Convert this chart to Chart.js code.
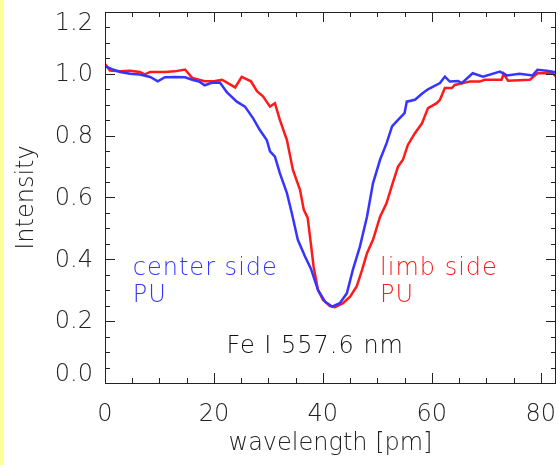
<!DOCTYPE html>
<html>
<head>
<meta charset="utf-8">
<script src="https://cdn.jsdelivr.net/npm/chart.js@4.4.0/dist/chart.umd.min.js"></script>
<style>
  html, body { margin: 0; padding: 0; background: #fff; }
</style>
</head>
<body>
<canvas id="lineChart" width="560" height="465"></canvas>
<script>
// Fe I 557.6 nm profiles
const centerWave = [0, 1.3, 2.75, 4.6, 6.4, 8.3, 9.7, 11.0, 12.8, 14.7, 16.0, 17.4, 18.3, 19.6, 21.1, 22.4,
    24.2, 25.7, 27.2, 28.4, 29.7, 30.3, 31.2, 32.1, 33.4, 34.3, 35.4, 36.7, 37.8, 39.1, 40.4, 41.7,
    43.1, 44.4, 45.5, 46.8, 48.1, 49.2, 50.5, 51.7, 52.7, 53.8, 55.0, 55.4, 56.9, 58.3, 59.3, 61.5,
    62.4, 63.3, 64.8, 65.5, 67.5, 69.4, 72.5, 73.8, 76.1, 78.5, 79.4, 81.1, 82.8];
const centerInt = [1.025, 1.015, 1.006, 1.0, 0.998, 0.99, 0.976, 0.989, 0.99, 0.989, 0.981, 0.974, 0.963, 0.971, 0.972, 0.94,
    0.91, 0.894, 0.856, 0.819, 0.786, 0.749, 0.732, 0.679, 0.614, 0.549, 0.463, 0.41, 0.37, 0.301, 0.263, 0.247,
    0.258, 0.29, 0.366, 0.441, 0.538, 0.646, 0.722, 0.776, 0.83, 0.851, 0.873, 0.91, 0.916, 0.937, 0.95, 0.97,
    0.991, 0.975, 0.977, 0.97, 1.002, 0.991, 1.007, 0.995, 1.0, 0.995, 1.013, 1.01, 1.005];

const limbWave = [0, 0.9, 2.75, 4.6, 6.4, 7.3, 8.3, 11.0, 12.8, 14.7, 16.0, 18.3, 20.2, 21.5, 23.9, 25.1,
    26.8, 27.9, 29.0, 30.3, 31.2, 32.1, 33.4, 34.5, 35.8, 36.5, 37.2, 37.8, 38.3, 39.1, 40.0, 41.3,
    42.2, 43.7, 45.0, 46.2, 47.2, 48.1, 49.2, 50.5, 51.7, 52.8, 53.8, 54.7, 55.6, 56.9, 58.2, 59.3,
    60.9, 61.5, 62.4, 63.7, 64.2, 65.7, 67.0, 68.8, 69.7, 72.8, 73.2, 74.0, 78.0, 79.4, 82.2, 82.8];
const limbInt = [1.032, 1.011, 1.008, 1.01, 1.006, 0.998, 1.006, 1.006, 1.008, 1.014, 0.987, 0.976, 0.977, 0.981, 0.956, 0.99,
    0.976, 0.944, 0.927, 0.894, 0.905, 0.851, 0.786, 0.689, 0.625, 0.56, 0.535, 0.45, 0.376, 0.301, 0.269, 0.249,
    0.245, 0.258, 0.279, 0.312, 0.366, 0.42, 0.463, 0.538, 0.582, 0.646, 0.7, 0.722, 0.77, 0.808, 0.84, 0.889,
    0.905, 0.916, 0.954, 0.954, 0.964, 0.97, 0.975, 0.975, 0.981, 0.981, 1.0, 0.978, 0.981, 1.002, 1.002, 0.991];

// y tick labels (drawn by hand so the end ones can sit inside the box like IDL does)
const yTickValues = [0.0, 0.2, 0.4, 0.6, 0.8, 1.0, 1.2];

const xMin = 0, xMax = 82.8, xMajor = 20, xMinor = 5;
const yMin = 0, yMax = 1.2, yMinor = 0.05;

const blue = '#3535ff';
const red = '#ff1a1a';
const fontFamily = '"DejaVu Sans", sans-serif';
const textFont = '200 24px ' + fontFamily;

function toPoints(xs, ys) {
    return xs.map((x, i) => ({ x: x, y: ys[i] }));
}

// box around the plot with inward ticks on all four sides (IDL style)
const boxTicks = {
    id: 'boxTicks',
    beforeDraw(chart) {
        const ctx = chart.ctx;
        ctx.save();
        ctx.fillStyle = '#ffff99';
        ctx.fillRect(0, 0, 4, chart.height);
        ctx.restore();
    },
    afterDatasetsDraw(chart) {
        const { ctx, chartArea: a, scales: { x, y } } = chart;
        ctx.save();
        ctx.strokeStyle = '#222';
        ctx.lineWidth = 1;
        ctx.beginPath();
        ctx.rect(a.left + 0.5, a.top + 0.5, a.right - a.left - 1, a.bottom - a.top);
        const nx = Math.floor((xMax - xMin) / xMinor + 1e-6);
        for (let i = 0; i <= nx; i++) {
            const v = xMin + i * xMinor;
            const px = Math.round(x.getPixelForValue(v)) + 0.5;
            const len = (i % (xMajor / xMinor) === 0) ? 10 : 5;
            ctx.moveTo(px, a.bottom); ctx.lineTo(px, a.bottom - len);
            ctx.moveTo(px, a.top); ctx.lineTo(px, a.top + len);
        }
        const ny = Math.round((yMax - yMin) / yMinor);
        for (let i = 0; i <= ny; i++) {
            const v = yMin + i * yMinor;
            const py = Math.round(y.getPixelForValue(v)) + 0.5;
            const len = (i % 4 === 0) ? 10 : 5;
            ctx.moveTo(a.left, py); ctx.lineTo(a.left + len, py);
            ctx.moveTo(a.right, py); ctx.lineTo(a.right - len, py);
        }
        ctx.stroke();

        // y tick labels, end labels pulled inside the box
        ctx.font = textFont;
        ctx.fillStyle = '#222';
        ctx.textAlign = 'right';
        ctx.textBaseline = 'middle';
        yTickValues.forEach(v => {
            let py = y.getPixelForValue(v) + 1;
            py = Math.min(Math.max(py, a.top + 12), a.bottom - 8);
            ctx.fillText(v.toFixed(1), a.left - 12, py);
        });
        ctx.restore();
    }
};

// in-plot labels, placed in data coordinates
const notes = [
    { text: 'center side', x: 5.1, y: 0.35, color: blue },
    { text: 'PU', x: 5.1, y: 0.262, color: blue },
    { text: 'limb side', x: 50.5, y: 0.35, color: red },
    { text: 'PU', x: 50.5, y: 0.262, color: red },
    { text: 'Fe I 557.6 nm', x: 22.3, y: 0.097, color: '#111' }
];

const plotNotes = {
    id: 'plotNotes',
    afterDraw(chart) {
        const { ctx, scales: { x, y } } = chart;
        ctx.save();
        ctx.font = textFont;
        ctx.letterSpacing = '1px';
        ctx.textAlign = 'left';
        ctx.textBaseline = 'alphabetic';
        notes.forEach(n => {
            ctx.fillStyle = n.color;
            ctx.fillText(n.text, x.getPixelForValue(n.x), y.getPixelForValue(n.y));
        });
        ctx.restore();
    }
};

function initializeProfileChart() {
    const ctx = document.getElementById('lineChart');
    if (!ctx) return;

    new Chart(ctx, {
        type: 'line',
        data: {
            datasets: [{
                label: 'center side PU',
                data: toPoints(centerWave, centerInt),
                borderColor: blue,
                borderWidth: 2.5,
                pointRadius: 0,
                tension: 0
            }, {
                label: 'limb side PU',
                data: toPoints(limbWave, limbInt),
                borderColor: red,
                borderWidth: 2.5,
                pointRadius: 0,
                tension: 0
            }]
        },
        options: {
            responsive: false,
            animation: false,
            layout: { padding: { left: 0, top: 12, right: 4, bottom: 0 } },
            plugins: {
                legend: { display: false },
                tooltip: { enabled: false }
            },
            scales: {
                x: {
                    type: 'linear',
                    min: xMin,
                    max: xMax,
                    grid: { display: false },
                    border: { display: false },
                    ticks: {
                        stepSize: xMajor,
                        includeBounds: false,
                        maxRotation: 0,
                        padding: 9,
                        color: '#222',
                        font: { family: fontFamily, size: 24, weight: 200 }
                    },
                    title: {
                        display: true,
                        text: 'wavelength [pm]',
                        color: '#222',
                        padding: { top: 0, bottom: 7 },
                        font: { family: fontFamily, size: 24, weight: 200 }
                    },
                    afterFit: s => {
                        s.height = 82;
                        s.paddingLeft = 0;
                        s.paddingRight = 0;
                    }
                },
                y: {
                    min: yMin,
                    max: yMax,
                    grid: { display: false },
                    border: { display: false },
                    ticks: { display: false },
                    title: {
                        display: true,
                        text: 'Intensity',
                        color: '#222',
                        padding: { top: 12, bottom: 0 },
                        font: { family: fontFamily, size: 24, weight: 200 }
                    },
                    afterFit: s => {
                        s.width = 105;
                        s.paddingTop = 0;
                        s.paddingBottom = 0;
                    }
                }
            }
        },
        plugins: [boxTicks, plotNotes]
    });
}

document.addEventListener('DOMContentLoaded', initializeProfileChart);
</script>
</body>
</html>
